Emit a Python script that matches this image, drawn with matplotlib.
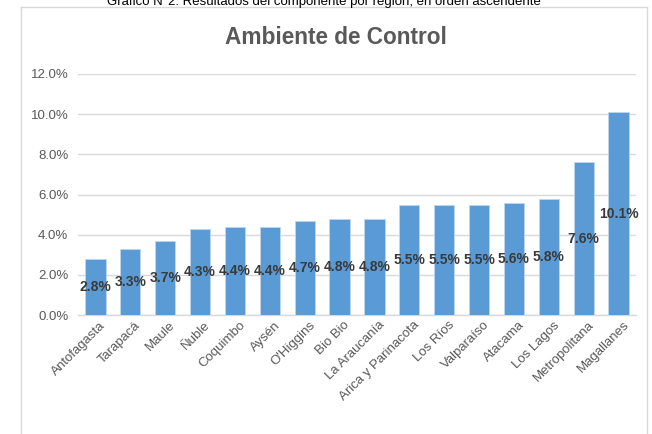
import matplotlib
matplotlib.use("Agg")
import matplotlib.pyplot as plt
from matplotlib.lines import Line2D
from matplotlib.ticker import FuncFormatter, MultipleLocator
import matplotlib.transforms as mtransforms

regions = ["Antofagasta", "Tarapacá", "Maule", "Ñuble", "Coquimbo", "Aysén",
           "O'Higgins", "Bio Bio", "La Araucanía", "Arica y Parinacota",
           "Los Ríos", "Valparaíso", "Atacama", "Los Lagos", "Metropolitana",
           "Magallanes"]
values = [2.8, 3.3, 3.7, 4.3, 4.4, 4.4, 4.7, 4.8, 4.8, 5.5, 5.5, 5.5, 5.6, 5.8, 7.6, 10.1]
labels = ["2.8%", "3.3%", "3.7%", "4.3%", "4.4%", "4.4%", "4.7%", "4.8%", "4.8%",
          "5.5%", "5.5%", "5.5%", "5.6%", "5.8%", "7.6%", "10.1%"]
title = "Ambiente de Control"
caption = "Gráfico N°2: Resultados del componente por región, en orden ascendente"

plt.rcParams['font.family'] = ['Liberation Sans', 'DejaVu Sans']

fig = plt.figure(figsize=(6.52, 4.34), dpi=100)
W, H = 652, 434
ax = fig.add_axes([78 / W, 1 - 315 / H, (636 - 78) / W, (315 - 74) / H])

x = list(range(len(regions)))
ax.bar(x, values, width=0.58, color="#5B9BD5", edgecolor="#BDD7EE", linewidth=0.6, zorder=3)

ax.set_xlim(-0.5, len(regions) - 0.5)
ax.set_ylim(0, 12)
ax.yaxis.set_major_locator(MultipleLocator(2))
ax.yaxis.set_major_formatter(FuncFormatter(lambda v, p: f"{v:.1f}%"))
ax.grid(axis='y', color="#D9D9D9", linewidth=1.0, zorder=0)
for s in ['top', 'right', 'left']:
    ax.spines[s].set_visible(False)
ax.spines['bottom'].set_color("#D9D9D9")
ax.spines['bottom'].set_linewidth(1.0)
ax.tick_params(axis='y', length=0, pad=7, labelsize=9.5, labelcolor="#595959")
ax.tick_params(axis='x', length=0, pad=3, labelsize=9.5, labelcolor="#595959")
ax.set_xticks(x)
ax.set_xticklabels(regions, rotation=45, ha='right', va='top', rotation_mode='anchor')
offset = mtransforms.ScaledTranslation(3 / 72, 0, fig.dpi_scale_trans)
for lab in ax.get_xticklabels():
    lab.set_transform(lab.get_transform() + offset)

for xi, v, t in zip(x, values, labels):
    ax.text(xi, v / 2, t, ha='center', va='center', fontsize=10, fontweight='bold',
            color="#3A3A3A", zorder=4)

fig.text(336 / W, 1 - 38 / H, title, ha='center', va='center', fontsize=16.3,
         fontweight='bold', color="#595959")
fig.text(324 / W, 1 - 1.5 / H, caption, ha='center', va='center', fontsize=9.5, color="#000000")

# outer chart border (left, top, right)
bc = "#D9D9D9"
fig.add_artist(Line2D([21.5 / W, 21.5 / W], [0, 1 - 7 / H], color=bc, lw=1, transform=fig.transFigure))
fig.add_artist(Line2D([21.5 / W, 647 / W], [1 - 7 / H, 1 - 7 / H], color=bc, lw=1, transform=fig.transFigure))
fig.add_artist(Line2D([647 / W, 647 / W], [0, 1 - 7 / H], color=bc, lw=1, transform=fig.transFigure))

fig.savefig("out.png", dpi=100)
